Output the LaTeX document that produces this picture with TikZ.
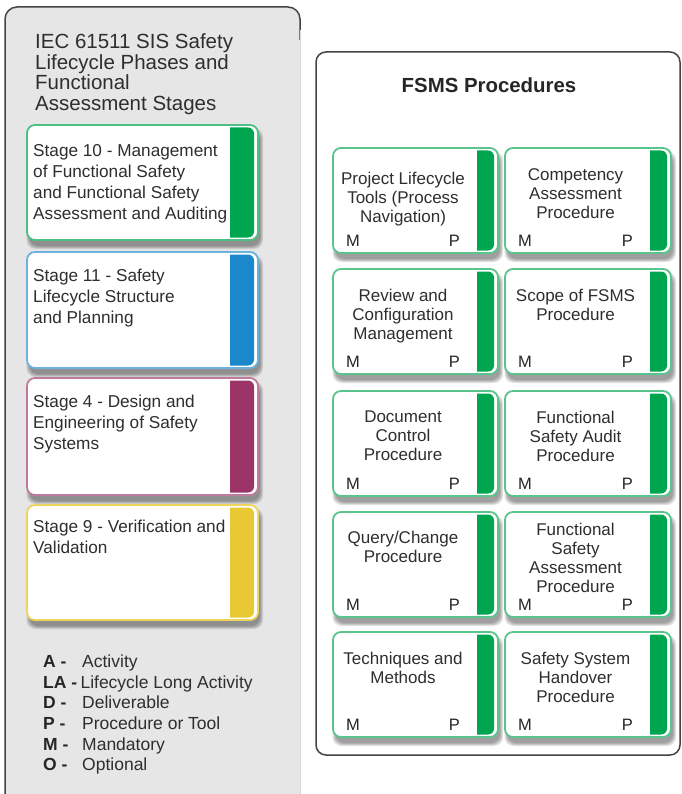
\documentclass[tikz,border=0pt]{standalone}
\usepackage{fontspec}
\setmainfont{Liberation Sans}
\usetikzlibrary{calc}

\definecolor{panelgray}{HTML}{E6E6E6}
\definecolor{edgegray}{HTML}{444444}
\definecolor{inkgray}{HTML}{2E2E2E}
\definecolor{safegreen}{HTML}{00A54F}
\definecolor{planblue}{HTML}{1B88CC}
\definecolor{designplum}{HTML}{9C3468}
\definecolor{verifyyellow}{HTML}{E8C934}

\tikzset{
  cardbox/.style={rectangle, rounded corners=8pt, fill=white, line width=1.8pt, inner sep=0pt, outer sep=0pt},
  cardtext/.style={font=\fontsize{17}{19}\selectfont, text=inkgray, inner sep=0pt, align=center},
  stagetext/.style={font=\fontsize{17.2}{21}\selectfont, text=inkgray, inner sep=0pt, align=left},
  paneltitle/.style={font=\fontsize{20.5}{20.7}\selectfont, text=inkgray, inner sep=0pt, align=left},
  legendkey/.style={font=\bfseries\fontsize{17.5}{20}\selectfont, text=black!85, inner sep=0pt},
  legendtext/.style={font=\fontsize{17.5}{20}\selectfont, text=inkgray, inner sep=0pt},
  flag/.style={font=\fontsize{16.5}{19}\selectfont, text=black!85, inner sep=0pt},
}

% soft drop shadow under a card: x, y (top left), width, height
\newcommand\cardshadow[4]{%
  \foreach \e in {0,1,2,3}{%
    \fill[black, opacity=0.11, rounded corners=9pt]
      (#1+2.5-\e, #2+6-\e) rectangle (#1+#3+2+\e, #2+#4+6+\e);
  }%
}

% card with coloured tab: name, x, y, width, height, edge colour, tab colour, tab start from right
\newcommand\tabcard[8]{%
  \cardshadow{#2}{#3}{#4}{#5}
  \node[cardbox, draw=#6, minimum width=#4pt, minimum height=#5pt, anchor=north west] (#1) at (#2,#3) {};
  \begin{scope}
    \clip[rounded corners=6pt] (#2+2.5,#3+2.5) rectangle (#2+#4-4,#3+#5-2.5);
    \fill[#7] (#2+#4-#8, #3) rectangle (#2+#4, #3+#5);
  \end{scope}
}

\begin{document}
\begin{tikzpicture}[x=1pt, y=-1pt]
\useasboundingbox (0,0) rectangle (681,794);

% ---------- left panel: lifecycle stages ----------
\fill[panelgray, rounded corners=12pt] (5,7) rectangle (300,806);
\draw[edgegray, line width=1.5pt, rounded corners=12pt] (5,806) -- (5,7) -- (300,7) -- (300,40);
\draw[black!15, line width=0.8pt] (300,30) -- (300,794);

\node[paneltitle, anchor=north west] (lefttitle) at (35,33.5)
  {IEC 61511 SIS Safety\\Lifecycle Phases and\\Functional\\Assessment Stages};

\tabcard{s10}{27}{125}{231}{115}{safegreen!70!white}{safegreen}{28}
\tabcard{s11}{27}{252}{231}{116}{planblue!65!white}{planblue}{28}
\tabcard{s4}{27}{378}{231}{117}{designplum!65!white}{designplum}{28}
\tabcard{s9}{27}{505}{231}{115}{verifyyellow!80!white}{verifyyellow}{28}

\node[stagetext, anchor=north west] (s10text) at (33,144)
  {Stage 10 - Management\\of Functional Safety\\and Functional Safety\\Assessment and Auditing};
\node[stagetext, anchor=north west] (s11text) at (33,269)
  {Stage 11 - Safety\\Lifecycle Structure\\and Planning};
\node[stagetext, anchor=north west] (s4text) at (33,395)
  {Stage 4 - Design and\\Engineering of Safety\\Systems};
\node[stagetext, anchor=north west] (s9text) at (33,520)
  {Stage 9 - Verification and\\Validation};

% legend
\foreach \k/\t/\yy in {A/Activity/667, D/Deliverable/708, P/Procedure or Tool/729, M/Mandatory/750, O/Optional/770}{
  \node[legendkey, anchor=base west] (key\k) at (43,\yy) {\k\ -};
  \node[legendtext, anchor=base west] (desc\k) at (82,\yy) {\t};
}
\node[legendkey, anchor=base west] (keyLA) at (43,688) {LA -};
\node[legendtext, anchor=base west] (descLA) at (keyLA.base east) {\,Lifecycle Long Activity};

% ---------- right panel: FSMS procedures ----------
\draw[edgegray, fill=white, line width=1.5pt, rounded corners=10pt] (316,52) rectangle (680,755);
\node[font=\bfseries\fontsize{20.4}{21}\selectfont, text=black!85, anchor=base, inner sep=0pt] (fsmstitle) at (489,93) {FSMS Procedures};

% cards: name / column x / width / top / first baseline / text
\foreach \n/\cx/\w/\tp/\bl/\txt in {
  p11/333/165/148/184/{Project Lifecycle\\Tools (Process\\Navigation)},
  p12/505/166/148/181/{Competency\\Assessment\\Procedure},
  p21/333/165/269/301/{Review and\\Configuration\\Management},
  p22/505/166/269/301/{Scope of FSMS\\Procedure},
  p31/333/165/391/423/{Document\\Control\\Procedure},
  p32/505/166/391/423/{Functional\\Safety Audit\\Procedure},
  p41/333/165/512/543/{Query/Change\\Procedure},
  p42/505/166/512/535/{Functional\\Safety\\Assessment\\Procedure},
  p51/333/165/632/664/{Techniques and\\Methods},
  p52/505/166/632/664/{Safety System\\Handover\\Procedure}}{
  \tabcard{\n}{\cx}{\tp}{\w}{105}{safegreen!65!white}{safegreen}{21}
  \node[cardtext, anchor=north] (\n text) at (\cx+\w/2-12.5, \bl-12.4) {\txt};
  \node[flag, anchor=base west] (\n m) at (\cx+13, \tp+98) {M};
  \node[flag, anchor=base east] (\n p) at (\cx+\w-38, \tp+98) {P};
}
\end{tikzpicture}
\end{document}
